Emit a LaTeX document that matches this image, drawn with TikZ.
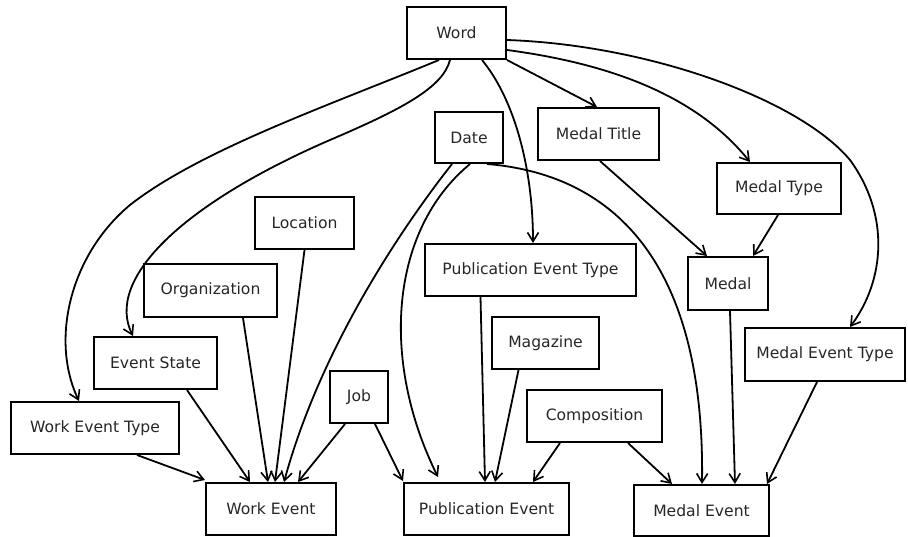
\documentclass[tikz,border=0pt]{standalone}
\usepackage{fontspec}
\setmainfont{DejaVu Sans}
\usetikzlibrary{arrows.meta}
\tikzset{
  box/.style={draw=black, line width=2pt, inner sep=0pt, text=black!85,
    font=\fontsize{15.6}{18}\selectfont},
  edge/.style={line width=1.8pt, -{Straight Barb[length=9pt,width=11pt,line width=1.6pt]}}
}
\newcommand{\bx}[6]{%
  \node[box, minimum width={(#4-#2)*1pt}, minimum height={(#5-#3)*1pt}]
    (#1) at ({(#2+#4)/2},{(#3+#5)/2}) {#6};}
\begin{document}
\begin{tikzpicture}[x=1pt,y=-1pt]
\useasboundingbox (0,0) rectangle (908,537);
\bx{word}{407}{7}{506}{59}{Word}
\bx{date}{435}{112}{503}{163}{Date}
\bx{mtitle}{538}{108}{659}{160}{Medal Title}
\bx{mtype}{717}{163}{841}{214}{Medal Type}
\bx{pet}{425}{244}{636}{296}{Publication Event Type}
\bx{medal}{688}{257}{768}{310}{Medal}
\bx{loc}{255}{197}{354}{249}{Location}
\bx{org}{144}{264}{277}{317}{Organization}
\bx{estate}{94}{337}{217}{389}{Event State}
\bx{mag}{492}{317}{599}{369}{Magazine}
\bx{job}{330}{371}{388}{423}{Job}
\bx{comp}{527}{390}{662}{442}{Composition}
\bx{met}{745}{328}{905}{381}{Medal Event Type}
\bx{wet}{11}{402}{179}{454}{Work Event Type}
\bx{we}{206}{483}{336}{535}{Work Event}
\bx{pe}{404}{483}{569}{535}{Publication Event}
\bx{me}{634}{485}{769}{536}{Medal Event}

% Word edges
\draw[edge] ([xshift=-17.5pt]word.south) .. controls (330,105) and (200,150) .. (130,205)
  .. controls (70,255) and (50,340) .. ([xshift=-16pt]wet.north);
\draw[edge] ([xshift=-6.5pt]word.south) .. controls (443,88) and (400,110) .. (330,140)
  .. controls (180,205) and (105,280) .. ([xshift=-22.5pt]estate.north);
\draw[edge] ([xshift=25.5pt]word.south) .. controls (515,100) and (533,170) .. ([xshift=2.5pt]pet.north);
\draw[edge] (word.south east) -- ([xshift=-1.5pt]mtitle.north);
\draw[edge] ([yshift=-17pt]word.east) .. controls (620,65) and (700,100) .. ([xshift=-29pt]mtype.north);
\draw[edge] ([yshift=-7pt]word.east) .. controls (650,45) and (800,100) .. (850,160)
  .. controls (890,215) and (885,280) .. ([xshift=25pt]met.north);

% Date edges
\draw[edge] ([xshift=-17pt]date.south) .. controls (400,230) and (320,350) .. ([xshift=13pt]we.north);
\draw[edge] ([xshift=1pt]date.south) .. controls (390,230) and (380,360) .. ([xshift=-48.5pt,yshift=5pt]pe.north);
\draw[edge] ([xshift=18pt]date.south) .. controls (620,175) and (705,270) .. ([xshift=0.5pt]me.north);

% Work Event
\draw[edge] ([xshift=42pt]wet.south) -- ([yshift=2pt]we.north west);
\draw[edge] ([xshift=31.5pt]estate.south) -- ([xshift=-21pt]we.north);
\draw[edge] ([xshift=32.5pt]org.south) -- ([xshift=-3pt]we.north);
\draw[edge] (loc.south) -- ([xshift=4pt]we.north);
\draw[edge] ([xshift=-14pt]job.south) -- ([xshift=27pt]we.north);

% Publication Event
\draw[edge] ([xshift=16pt]job.south) -- ([yshift=1pt]pe.north west);
\draw[edge] ([xshift=-50pt]pet.south) -- ([xshift=-1.5pt]pe.north);
\draw[edge] ([xshift=-27pt]mag.south) -- ([xshift=8.5pt]pe.north);
\draw[edge] ([xshift=-34.5pt]comp.south) -- ([xshift=46.5pt]pe.north);

% Medal
\draw[edge] ([xshift=1.5pt]mtitle.south) -- ([xshift=-21pt]medal.north);
\draw[edge] ([xshift=-1pt]mtype.south) -- ([xshift=25pt]medal.north);

% Medal Event
\draw[edge] ([xshift=33.5pt]comp.south) -- ([xshift=-29.5pt]me.north);
\draw[edge] ([xshift=2pt]medal.south) -- ([xshift=33.5pt]me.north);
\draw[edge] ([xshift=-8pt]met.south) -- ([xshift=65.5pt]me.north);
\end{tikzpicture}
\end{document}
